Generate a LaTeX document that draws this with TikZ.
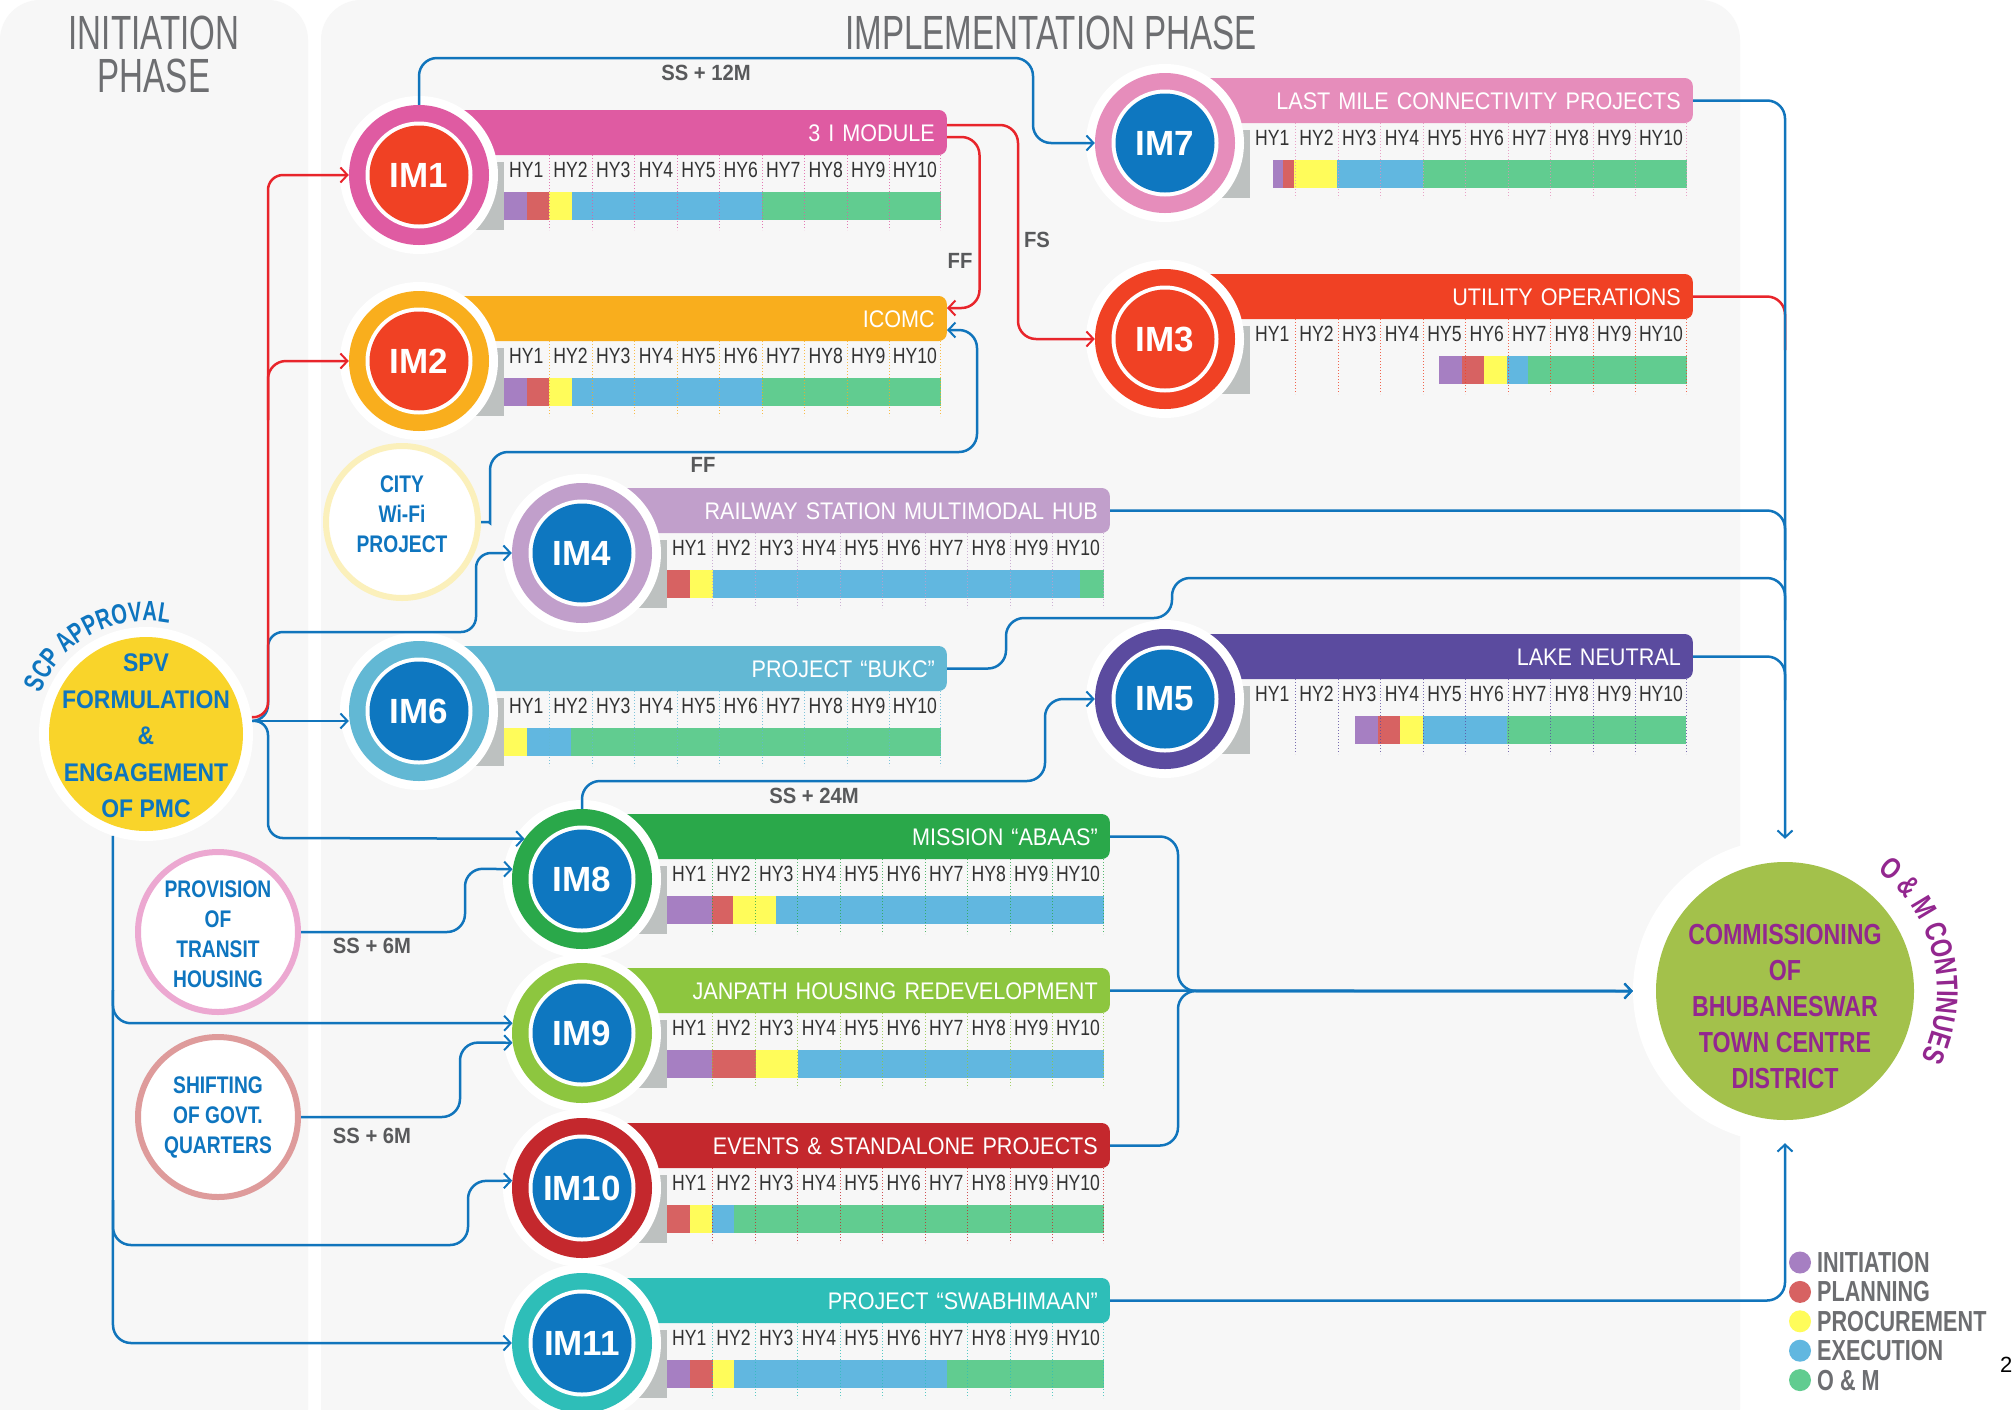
\documentclass[tikz,border=0pt]{standalone}
\usepackage{fontspec}
\setmainfont{Liberation Sans}
\newfontfamily\fhy[FakeStretch=0.8]{Liberation Sans}
\newfontfamily\fttl[FakeStretch=0.9]{Liberation Sans}
\newfontfamily\fcirc[FakeStretch=0.8]{Liberation Sans}
\newfontfamily\fhead[FakeStretch=0.69]{Liberation Sans}
\newfontfamily\fspv[FakeStretch=0.9]{Liberation Sans}
\newfontfamily\fcom[FakeStretch=0.8]{Liberation Sans}
\newfontfamily\fleg[FakeStretch=0.745]{Liberation Sans}
\newfontfamily\flab[FakeStretch=0.92]{Liberation Sans}
\newfontfamily\farc[FakeStretch=0.72]{Liberation Sans}
\newfontfamily\farcb[FakeStretch=0.77]{Liberation Sans}
\usetikzlibrary{arrows.meta,calc,decorations.text}

\definecolor{cBg}{HTML}{F7F7F7}
\definecolor{cGreyBlk}{HTML}{BDC1C0}
\definecolor{colP}{HTML}{A67FC2}
\definecolor{colR}{HTML}{D76262}
\definecolor{colY}{HTML}{FFFC5A}
\definecolor{colB}{HTML}{61B7E0}
\definecolor{colG}{HTML}{61CC90}
\definecolor{cRedIn}{HTML}{F04124}
\definecolor{cBlueIn}{HTML}{0E77C0}
\definecolor{cIMa}{HTML}{DF5BA2}
\definecolor{cIMb}{HTML}{F9AE1D}
\definecolor{cIMc}{HTML}{F04124}
\definecolor{cIMd}{HTML}{C19FCB}
\definecolor{cIMe}{HTML}{5B4B9F}
\definecolor{cIMf}{HTML}{62B8D4}
\definecolor{cIMg}{HTML}{E68DBB}
\definecolor{cIMh}{HTML}{2AA84A}
\definecolor{cIMi}{HTML}{8DC63F}
\definecolor{cIMj}{HTML}{C4282D}
\definecolor{cIMk}{HTML}{2EBEB8}
\definecolor{cLine}{HTML}{1175BC}
\definecolor{cRedL}{HTML}{E8252B}
\definecolor{cText}{HTML}{0E75BF}
\definecolor{cHead}{HTML}{6D6E71}
\definecolor{cHY}{HTML}{333333}
\definecolor{cLab}{HTML}{58595B}
\definecolor{cYel}{HTML}{F9D42A}
\definecolor{cGrn}{HTML}{A3C14B}
\definecolor{cPurp}{HTML}{93278F}
\definecolor{cWifi}{HTML}{FBF0BB}
\definecolor{cProv}{HTML}{ECA8D1}
\definecolor{cShift}{HTML}{DE9B9B}

\tikzset{
 barbox/.style={anchor=east, minimum width=498pt, minimum height=45pt, rounded corners=8pt, text=white,
   font=\fttl\fontsize{24}{24}\selectfont, align=right, text width=474pt, inner xsep=12pt, inner ysep=0pt,
   text height=17pt, text depth=0pt},
 hylab/.style={anchor=base, inner sep=0pt, text=cHY, font=\fhy\fontsize{22}{22}\selectfont},
 halo/.style={circle, fill=white, minimum size=158pt, inner sep=0pt},
 ringc/.style={circle, minimum size=140pt, inner sep=0pt},
 whitec/.style={circle, fill=white, minimum size=107pt, inner sep=0pt},
 innerc/.style={circle, minimum size=99pt, inner sep=0pt, text=white, font=\bfseries\fontsize{35}{35}\selectfont},
 smallc/.style={circle, fill=white, minimum size=152pt, line width=6pt, inner sep=0pt},
 ctext/.style={align=center, text=cText, inner sep=0pt, font=\fcirc\bfseries\fontsize{24}{30}\selectfont},
 head/.style={anchor=base, inner sep=0pt, text=cHead, font=\fhead\fontsize{48}{48}\selectfont},
 lab/.style={inner sep=0pt, text=cLab, font=\flab\bfseries\fontsize{22}{22}\selectfont},
 bluec/.style={draw=cLine, line width=2.5pt, rounded corners=18pt},
 redc/.style={draw=cRedL, line width=2.5pt, rounded corners=18pt},
 arr/.style={-{Straight Barb[length=7pt,width=15pt,line width=2pt]}},
}

\newcommand\modul[8]{%
 \begin{scope}[shift={(#2,-#3)}]
  \node[barbox, fill=#4] (#1bar) at (528,42.5) {#7};
  \fill[cGreyBlk] (30,13) rectangle (84.5,-55);
  \foreach \sc/\sa/\sb in {#8} \fill[col\sc] ({84.5+\sa},-17) rectangle ({84.5+\sb},-45);
  \foreach \sb in {45.5,88.5,131,174,216,258.5,301,343.5,386,437}
    \draw[#4, line width=1pt, dash pattern=on 1pt off 2pt, opacity=.8] ({84.5+\sb},20) -- ({84.5+\sb},-55);
  \foreach \sx/\st in {22.75/1,67/2,109.75/3,152.5/4,195/5,237.25/6,279.75/7,322.25/8,364.75/9,411.5/10}
    \node[hylab] (#1hy\st) at ({84.5+\sx},-2) {HY\st};
  \node[halo] (#1h) at (0,0) {};
  \node[ringc, fill=#4] (#1) at (0,0) {};
  \node[whitec] (#1w) at (0,0) {};
  \node[innerc, fill=#5] (#1l) at (0,0) {#6};
 \end{scope}}

\begin{document}
\begin{tikzpicture}[x=1pt,y=1pt]
\useasboundingbox (0,0) rectangle (2013,-1409);
\fill[white] (0,0) rectangle (2013,-1409);
\fill[cBg, rounded corners=40pt] (0,0) rectangle (308,-1460);
\fill[cBg, rounded corners=40pt] (321,0) rectangle (1740,-1460);

% headings
\node[head] (hinit1) at (154,-49) {INITIATION};
\node[head] (hinit2) at (154,-92) {PHASE};
\node[head] (himpl) at (1051,-49) {IMPLEMENTATION PHASE};

% modules
\modul{im1}{419}{175}{cIMa}{cRedIn}{IM1}{3 I MODULE}{P/0/23,R/23/45.5,Y/45.5/68,B/68/258.5,G/258.5/437}
\modul{im2}{419}{361}{cIMb}{cRedIn}{IM2}{ICOMC}{P/0/23,R/23/45.5,Y/45.5/68,B/68/258.5,G/258.5/437}
\modul{im4}{582}{553}{cIMd}{cBlueIn}{IM4}{RAILWAY STATION MULTIMODAL HUB}{R/0/23,Y/23/46.6,B/46.6/413.6,G/413.6/437}
\modul{im6}{419}{711}{cIMf}{cBlueIn}{IM6}{PROJECT “BUKC”}{Y/0/23.5,B/23.5/67.5,G/67.5/437}
\modul{im8}{582}{879}{cIMh}{cBlueIn}{IM8}{MISSION “ABAAS”}{P/0/45.7,R/45.7/66.7,Y/66.7/109,B/109/437}
\modul{im9}{582}{1033}{cIMi}{cBlueIn}{IM9}{JANPATH HOUSING REDEVELOPMENT}{P/0/45.7,R/45.7/89,Y/89/131.3,B/131.3/437}
\modul{im10}{582}{1188}{cIMj}{cBlueIn}{IM10}{EVENTS \& STANDALONE PROJECTS}{R/0/23,Y/23/45,B/45/67,G/67/437}
\modul{im11}{582}{1343}{cIMk}{cBlueIn}{IM11}{PROJECT “SWABHIMAAN”}{P/0/23,R/23/46.6,Y/46.6/67.6,B/67.6/280.4,G/280.4/437}
\modul{im7}{1165}{143}{cIMg}{cBlueIn}{IM7}{LAST MILE CONNECTIVITY PROJECTS}{P/23/33.4,R/33.4/44.4,Y/44.4/87,B/87/173.4,G/173.4/437}
\modul{im3}{1165}{339}{cIMc}{cRedIn}{IM3}{UTILITY OPERATIONS}{P/189/212,R/212/234,Y/234/257,B/257/278.6,G/278.6/437}
\modul{im5}{1165}{699}{cIMe}{cBlueIn}{IM5}{LAKE NEUTRAL}{P/105.5/128.8,R/128.8/150.8,Y/150.8/173.5,B/173.5/257.8,G/257.8/436.5}

% SPV
\node[circle, fill=white, minimum size=214pt, inner sep=0pt] (spv) at (146,-734) {};
\node[circle, fill=cYel, minimum size=194pt, inner sep=0pt] (spvl) at (146,-734) {};
\node[align=center, text=cText, inner sep=0pt, font=\fspv\bfseries\fontsize{25.5}{36.6}\selectfont] (spvt) at (146,-736)
  {SPV\\FORMULATION\\\&\\ENGAGEMENT\\OF PMC};
\path[decorate, decoration={text along path, text align=center, text color=cText,
  text={|\farc\bfseries\fontsize{28}{28}\selectfont|SCP APPROVAL}}]
  (146,-734) ++(168:113) arc[start angle=168, end angle=69, radius=113];

% commissioning
\node[circle, fill=white, minimum size=304pt, inner sep=0pt] (comm) at (1785,-991) {};
\node[circle, fill=cGrn, minimum size=258pt, inner sep=0pt] (comml) at (1785,-991) {};
\node[align=center, text=cPurp, inner sep=0pt, font=\fcom\bfseries\fontsize{29}{36}\selectfont] (commt) at (1785,-1006)
  {COMMISSIONING\\OF\\BHUBANESWAR\\TOWN CENTRE\\DISTRICT};
\path[decorate, decoration={text along path, text align=center, text color=cPurp,
  text={|\farcb\bfseries\fontsize{30}{30}\selectfont|O {\&} M CONTINUES}}]
  (1785,-991) ++(64:152) arc[start angle=64, end angle=-38, radius=152];

% small circles
\node[smallc, draw=cWifi] (wifi) at (402,-522) {};
\node[ctext] (wifit) at (402,-514) {CITY\\Wi-Fi\\PROJECT};
\node[smallc, draw=cProv, minimum size=160pt] (prov) at (218,-932) {};
\node[ctext] (provt) at (218,-934) {PROVISION\\OF\\TRANSIT\\HOUSING};
\node[smallc, draw=cShift, minimum size=160pt] (shift) at (218,-1117) {};
\node[ctext] (shiftt) at (218,-1117) {SHIFTING\\OF GOVT.\\QUARTERS};

% connectors (blue, left)
\draw[bluec, arr, rounded corners=15pt] (spv.7.5) -- (268,-720) -- (268,-632) -- (476,-632) -- (476,-553) -- (im4.west);
\draw[bluec, arr, rounded corners=15pt] (spv.7.5) -- (268,-720) -- (268,-838) -- (im8.145);
\draw[bluec, arr] (spv.7.5) -- (spv.7.5 -| im6.west);
\draw[bluec, arr] (spv.252) -- (113,-1343) -- (im11.west);
\draw[bluec, arr] (113,-990) -- (im9.172 -| spv.252) -- (im9.172);
\draw[bluec, arr] (113,-1200) -- (113,-1245) -- (468,-1245) -- (468,-1181) -- (im10.174);
\draw[bluec, arr] (prov.east) -- (465,-932) -- (465,-868.5) -- (im8.172);
\draw[bluec, arr] (shift.east) -- (460,-1117) -- (460,-1042.5) -- (im9.188);
\draw[bluec, arr] (wifi.east) .. controls (490,-522) .. (490,-505) -- (490,-452) -- (977,-452) -- (977,-330) -- ($(im2bar.east)+(0,-11.5)$);
% red
\draw[redc, arr, rounded corners=15pt] (spv.9) -- (268,-717.3) -- (268,-175) -- (im1.west);
\draw[redc, arr] (268,-420) -- (268,-361) -- (im2.west);
\draw[redc, arr] ($(im1bar.east)+(0,-4.5)$) -- (979.5,-137) -- (979.5,-308) -- ($(im2bar.east)+(0,10.5)$);
\draw[redc, arr] ($(im1bar.east)+(0,7.5)$) -- (1018,-125) -- (1018,-339) -- (im3.west);
\draw[redc] (im3bar.east) -- (1785,-296.5) -- (1785,-350);
% blue, right
\draw[bluec, arr] (im1.north) -- (419,-58) -- (1033,-58) -- (1033,-143) -- (im7.west);
\draw[bluec] (im4bar.east) -- (1785,-510.5) -- (1785,-560);
\draw[bluec] (im5bar.east) -- (1785,-656.5) -- (1785,-700);
\draw[bluec] (im6bar.east) -- (1006,-668.5) -- (1006,-618) -- (1172,-618) -- (1172,-578) -- (1785,-578) -- (1785,-620);
\draw[bluec, arr] (im7bar.east) -- (1785,-100.5) -- (comm.north);
\draw[bluec, arr] (im8.north) -- (582,-781) -- (1045,-781) -- (1045,-699) -- (im5.west);
\draw[bluec, arr] (im8bar.east) -- (1178,-836.5) -- (1178,-991) -- (comm.west);
\draw[bluec, arr] (im9bar.east) -- (comm.west);
\draw[bluec, arr] (im10bar.east) -- (1178,-1145.5) -- (1178,-991) -- (comm.west);
\draw[bluec, arr] (im11bar.east) -- (1785,-1300.5) -- (comm.south);

% connector labels
\node[lab] (lss12) at (706,-73) {SS + 12M};
\node[lab] (lff1) at (960,-261) {FF};
\node[lab] (lfs) at (1037,-240) {FS};
\node[lab] (lff2) at (703,-465) {FF};
\node[lab] (lss24) at (814,-796) {SS + 24M};
\node[lab] (lss6a) at (372,-946) {SS + 6M};
\node[lab] (lss6b) at (372,-1136) {SS + 6M};

% legend
\foreach \li/\lc/\lt in {0/colP/INITIATION,1/colR/PLANNING,2/colY/PROCUREMENT,3/colB/EXECUTION,4/colG/O \& M}{
  \node[circle, fill=\lc, minimum size=22pt, inner sep=0pt] (leg\li) at (1800,{-1262.5-29.4*\li}) {};
  \node[anchor=west, inner sep=0pt, text=cHead, font=\fleg\bfseries\fontsize{29}{29}\selectfont] (legt\li) at (1817,{-1262.5-29.4*\li}) {\lt};
}
\node[anchor=west, inner sep=0pt, font=\fontsize{22}{22}\selectfont] (pg) at (2000,-1365) {2};
\end{tikzpicture}
\end{document}
